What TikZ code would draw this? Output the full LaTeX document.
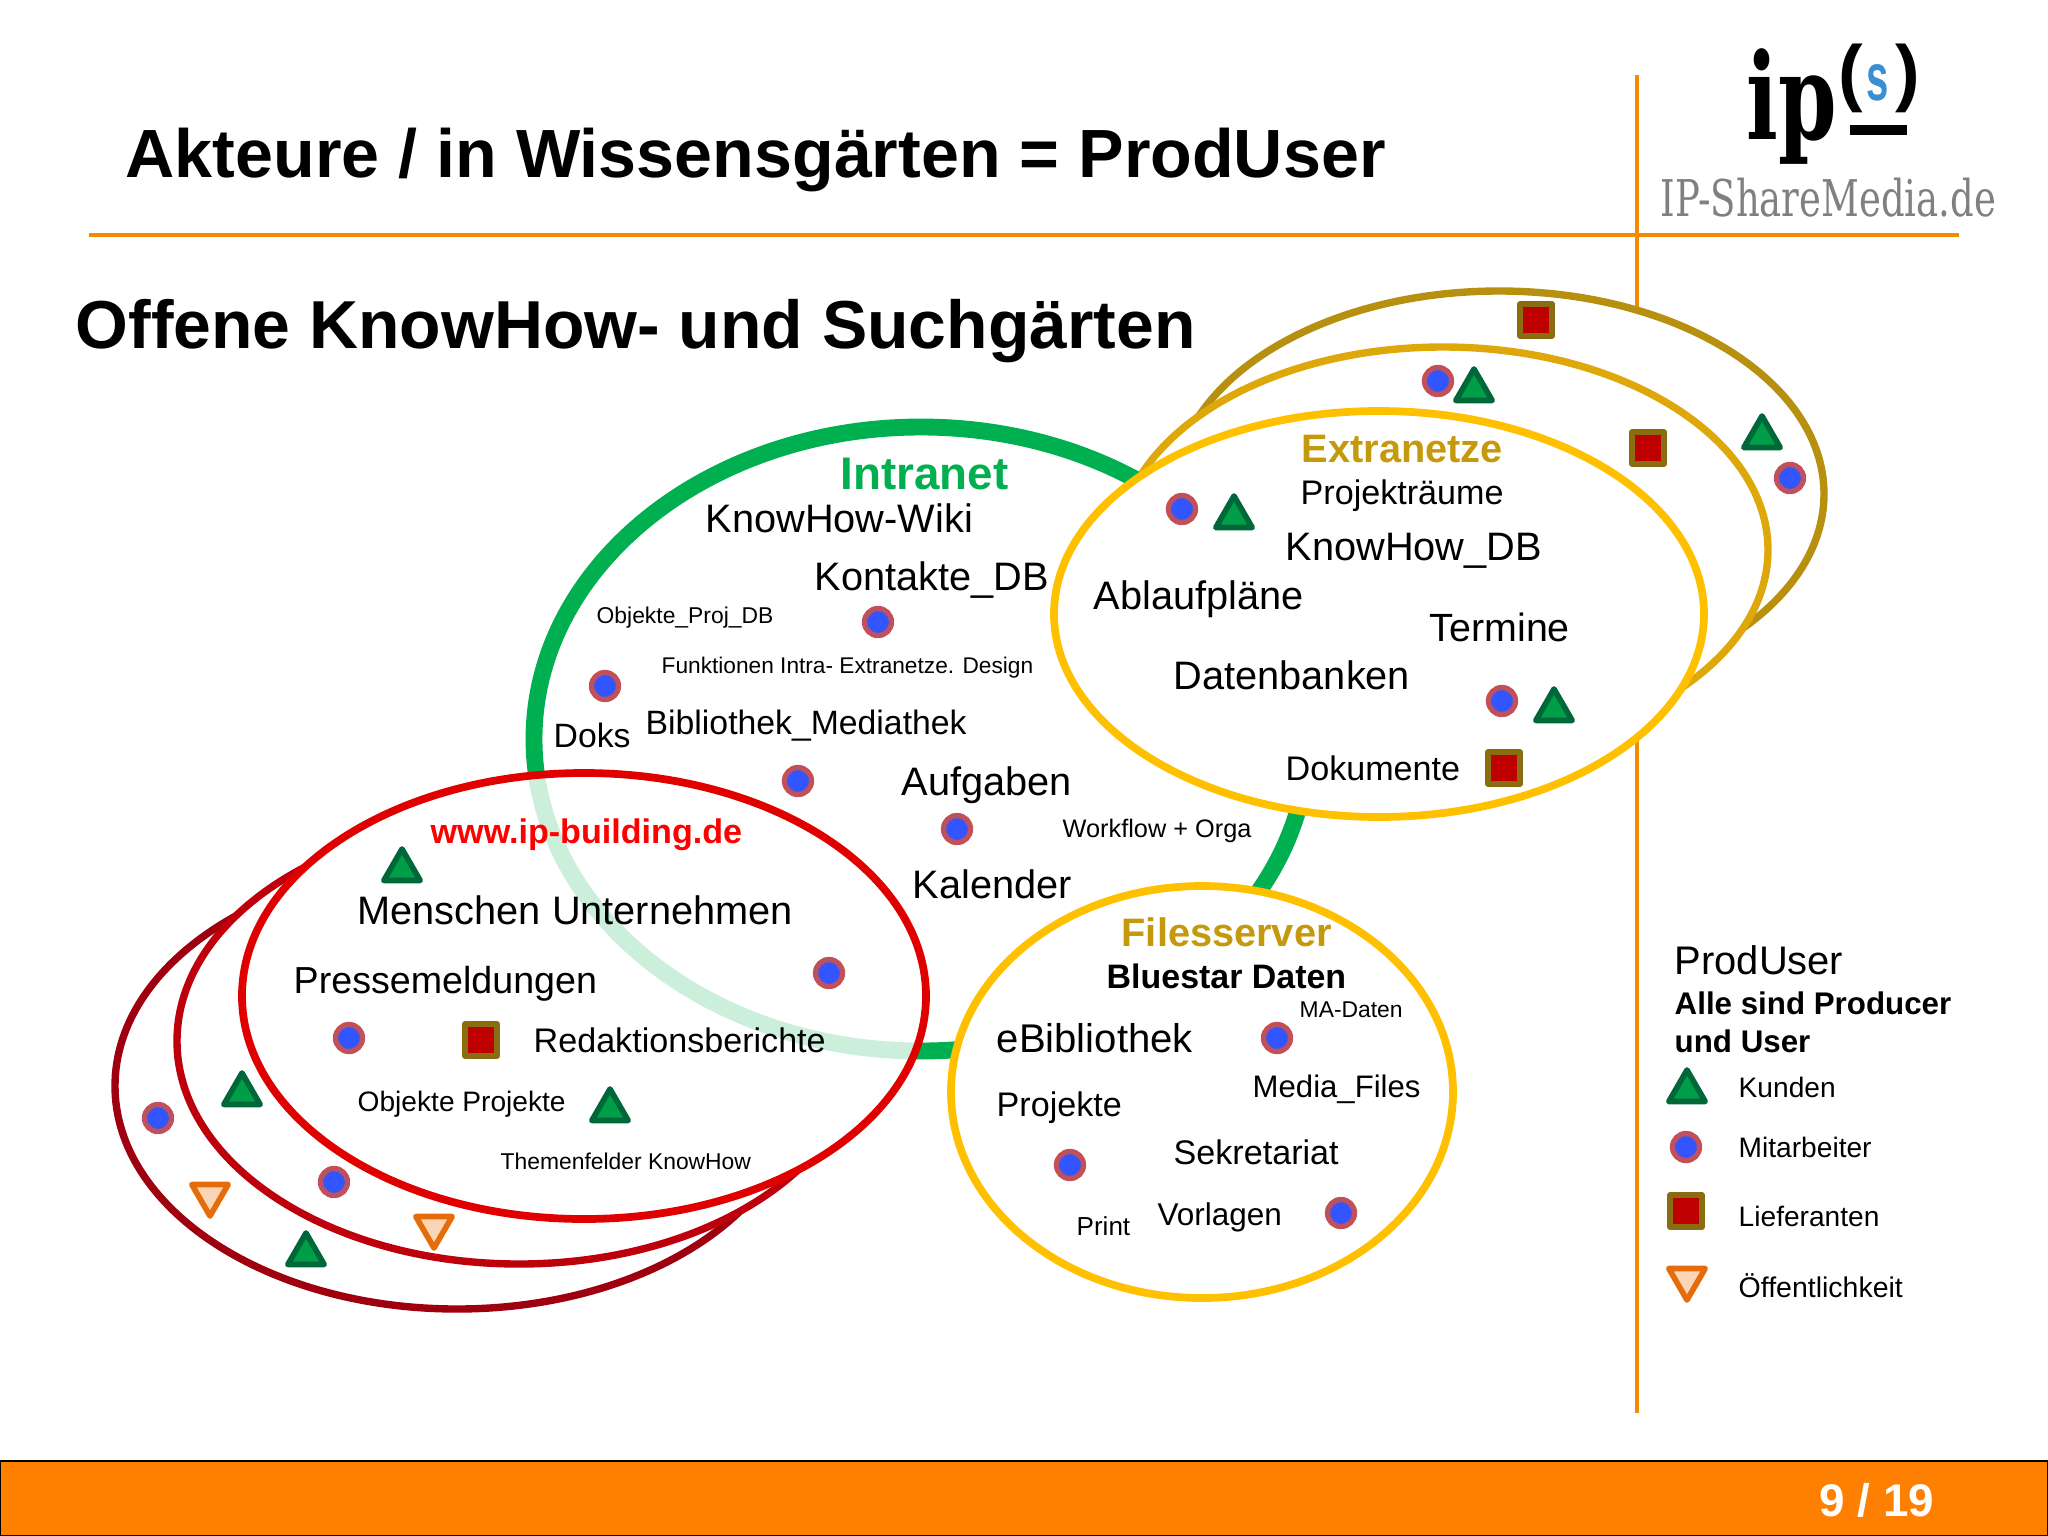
\documentclass[tikz,border=0pt]{standalone}
\usepackage{fontspec}
\usepackage{tikz}
\usetikzlibrary{shapes.geometric}
\setmainfont{Liberation Sans}
\newfontfamily\logofont[FakeStretch=0.70]{DejaVu Serif}
\newfontfamily\logowide[FakeStretch=0.73]{DejaVu Serif}
\newfontfamily\logosans[FakeStretch=0.6]{Liberation Sans}
\definecolor{barorange}{HTML}{FF8000}
\definecolor{lineorange}{HTML}{F28C00}
\definecolor{intragreen}{HTML}{00B050}
\definecolor{goldtext}{HTML}{C49A0C}
\tikzset{
  lab/.style={anchor=west,inner sep=0pt,font=\fontsize{#1pt}{#1pt}\selectfont},
  boldlab/.style={anchor=west,inner sep=0pt,font=\fontsize{#1pt}{#1pt}\selectfont\bfseries},
  kunde/.style={regular polygon,regular polygon sides=3,minimum size=.42cm,inner sep=0pt,
    draw={rgb,255:red,0;green,104;blue,56},fill=intragreen!90!black,line width=1.6pt,line join=round,yshift=-.05cm},
  mitarbeiter/.style={circle,minimum size=.27cm,inner sep=0pt,
    draw={rgb,255:red,192;green,80;blue,90},fill={rgb,255:red,51;green,85;blue,255},line width=1.5pt},
  lieferant/.style={rectangle,minimum size=.32cm,inner sep=0pt,
    draw={rgb,255:red,138;green,109;blue,16},fill={rgb,255:red,192;green,0;blue,0},line width=1.6pt,line join=round},
  public/.style={regular polygon,regular polygon sides=3,shape border rotate=180,minimum size=.42cm,inner sep=0pt,
    draw={rgb,255:red,228;green,108;blue,10},fill={rgb,255:red,252;green,213;blue,181},line width=1.6pt,line join=round,yshift=.05cm},
  garten/.style={line width=#1,fill=white}
}
\begin{document}
\begin{tikzpicture}[x=.01cm,y=-.01cm]
\useasboundingbox (0,0) rectangle (2048,1536);
% rules and bottom bar
\coordinate (vtop) at (1637,75);
\coordinate (vbot) at (1637,1413);
\coordinate (hleft) at (89,235);
\coordinate (hright) at (1959,235);
\draw[lineorange,line width=1.4pt] (vtop) -- (vbot);
\draw[lineorange,line width=1.4pt] (hleft) -- (hright);
\fill[barorange,draw=black,line width=.6pt] (0,1461) rectangle (2048,1536);
\node[boldlab=13,text=white] (seite) at (1819,1500) {9 / 19};
% logo
\node[anchor=west,inner sep=0pt,font=\fontsize{34pt}{34pt}\logofont\bfseries] (logoip) at (1746,107) {ip};
\node[inner sep=0pt,font=\fontsize{21pt}{21pt}\bfseries] (logoauf) at (1851,78) {(};
\node[inner sep=0pt,font=\fontsize{21pt}{21pt}\bfseries] (logozu) at (1908,78) {)};
\node[inner sep=0pt,font=\fontsize{19pt}{19pt}\logosans\bfseries,text={rgb,255:red,58;green,143;blue,208}] (logos) at (1878,83) {s};
\fill[black] (1850,125) rectangle (1907,135);
\node[anchor=west,inner sep=0pt,text=black!50,font=\fontsize{14.4pt}{14.4pt}\logowide] (logotext) at (1660,198) {IP-ShareMedia.de};
% titles
\node[boldlab=19.4] (titel) at (125,160) {Akteure / in Wissensgärten = ProdUser};
\node[boldlab=19.3] (untertitel) at (75,331) {Offene KnowHow- und Suchgärten};
% gardens, back to front
\draw[garten=2.1pt,draw={rgb,255:red,184;green,144;blue,15}] (1499,494) ellipse [x radius=325,y radius=203];
\draw[garten=2.1pt,draw={rgb,255:red,222;green,168;blue,10}] (1443,550) ellipse [x radius=325,y radius=203];
\draw[garten=2.1pt,draw={rgb,255:red,158;green,0;blue,16}] (457,1086) ellipse [x radius=342,y radius=223];
\draw[garten=2.1pt,draw={rgb,255:red,190;green,0;blue,12}] (519,1041) ellipse [x radius=342,y radius=223];
\fill[white] (584,996) ellipse [x radius=342,y radius=223];
\draw[intragreen,line width=4.8pt] (921,739) ellipse [x radius=387,y radius=312];
\fill[white,fill opacity=.8] (584,996) ellipse [x radius=342,y radius=223];
\draw[red!88!black,line width=2.2pt] (584,996) ellipse [x radius=342,y radius=223];
\draw[garten=2.2pt,draw={rgb,255:red,255;green,192;blue,0}] (1379,614) ellipse [x radius=325,y radius=203];
\draw[garten=2.2pt,draw={rgb,255:red,255;green,192;blue,0}] (1202,1092) ellipse [x radius=251,y radius=206];
% Intranet
\node[boldlab=13,text=intragreen] (intranet) at (840,474) {Intranet};
\node[lab=11.3] (wiki) at (705,518) {KnowHow-Wiki};
\node[lab=11.3] (kontakte) at (814,580) {Kontakte\_DB};
\node[lab=6.5] (objproj) at (596,618) {Objekte\_Proj\_DB};
\node[lab=6.45] (funktionen) at (661,668) {Funktionen Intra- Extranetze. Design};
\node[lab=9.6] (doks) at (553,735) {Doks};
\node[lab=9.6] (biblio) at (645,726) {Bibliothek\_Mediathek};
\node[lab=11.3] (aufgaben) at (901,785) {Aufgaben};
\node[lab=7.2] (workflow) at (1062,831) {Workflow + Orga};
\node[lab=11.3] (kalender) at (912,884) {Kalender};
\node[mitarbeiter] (m1) at (878,622) {};
\node[mitarbeiter] (m2) at (605,686) {};
\node[mitarbeiter] (m3) at (798,781) {};
\node[mitarbeiter] (m4) at (957,829) {};
% Extranetze
\node[boldlab=11.3,text=goldtext] (extranetze) at (1301,449) {Extranetze};
\node[lab=9.7] (projektraeume) at (1300,496) {Projekträume};
\node[lab=11.3] (knowhowdb) at (1285,551) {KnowHow\_DB};
\node[lab=11.3] (ablauf) at (1093,599) {Ablaufpläne};
\node[lab=11.2] (termine) at (1429,627) {Termine};
\node[lab=11.3] (datenbanken) at (1173,675) {Datenbanken};
\node[lab=9.7] (dokumente) at (1285,768) {Dokumente};
\node[lieferant] (l1) at (1536,320) {};
\node[mitarbeiter] (m5) at (1438,381) {};
\node[kunde] (k1) at (1474,385) {};
\node[lieferant] (l2) at (1648,448) {};
\node[kunde] (k2) at (1762,432) {};
\node[mitarbeiter] (m6) at (1790,478) {};
\node[mitarbeiter] (m7) at (1182,509) {};
\node[kunde] (k3) at (1234,512) {};
\node[mitarbeiter] (m8) at (1502,701) {};
\node[kunde] (k4) at (1554,705) {};
\node[lieferant] (l3) at (1504,768) {};
% Filesserver
\node[boldlab=11.3,text=goldtext] (files) at (1121,932) {Filesserver};
\node[boldlab=9.65] (bluestar) at (1106,976) {Bluestar Daten};
\node[lab=6.5] (madaten) at (1299,1010) {MA-Daten};
\node[lab=11.4] (ebib) at (996,1038) {eBibliothek};
\node[lab=8.85] (media) at (1252,1089) {Media\_Files};
\node[lab=9.7] (projekte) at (996,1108) {Projekte};
\node[lab=9.7] (sekretariat) at (1173,1152) {Sekretariat};
\node[lab=8.95] (vorlagen) at (1157,1217) {Vorlagen};
\node[lab=7.4] (print) at (1076,1226) {Print};
\node[mitarbeiter] (m9) at (1277,1038) {};
\node[mitarbeiter] (m10) at (1070,1165) {};
\node[mitarbeiter] (m11) at (1341,1213) {};
% ip-building
\node[boldlab=9.7,text=red] (building) at (430,835) {www.ip-building.de};
\node[lab=11.3] (menschen) at (357,910) {Menschen Unternehmen};
\node[lab=10.7] (presse) at (293,984) {Pressemeldungen};
\node[lab=9.7] (redaktion) at (533,1040) {Redaktionsberichte};
\node[lab=8] (objekte) at (357,1104) {Objekte Projekte};
\node[lab=6.5] (themen) at (500,1161) {Themenfelder KnowHow};
\node[kunde] (k5) at (402,865) {};
\node[mitarbeiter] (m12) at (829,973) {};
\node[mitarbeiter] (m13) at (349,1038) {};
\node[lieferant] (l4) at (481,1040) {};
\node[kunde] (k6) at (242,1089) {};
\node[kunde] (k7) at (610,1105) {};
\node[mitarbeiter] (m14) at (158,1118) {};
\node[mitarbeiter] (m15) at (334,1182) {};
\node[public] (p1) at (210,1200) {};
\node[public] (p2) at (434,1232) {};
\node[kunde] (k8) at (306,1249) {};
% legend
\node[lab=11.35] (leghead) at (1674,960) {ProdUser};
\node[boldlab=8.9] (legzeile) at (1674,1003) {Alle sind Producer};
\node[boldlab=8.9] (legzeilb) at (1674,1041) {und User};
\node[kunde] (legk) at (1687,1086) {};
\node[lab=8] (legkunden) at (1738,1087) {Kunden};
\node[mitarbeiter] (legm) at (1686,1147) {};
\node[lab=8] (legmit) at (1738,1147) {Mitarbeiter};
\node[lieferant] (legl) at (1686,1211) {};
\node[lab=8] (leglief) at (1738,1216) {Lieferanten};
\node[public] (legp) at (1687,1284) {};
\node[lab=8.1] (legoeff) at (1738,1286) {Öffentlichkeit};
\end{tikzpicture}
\end{document}
